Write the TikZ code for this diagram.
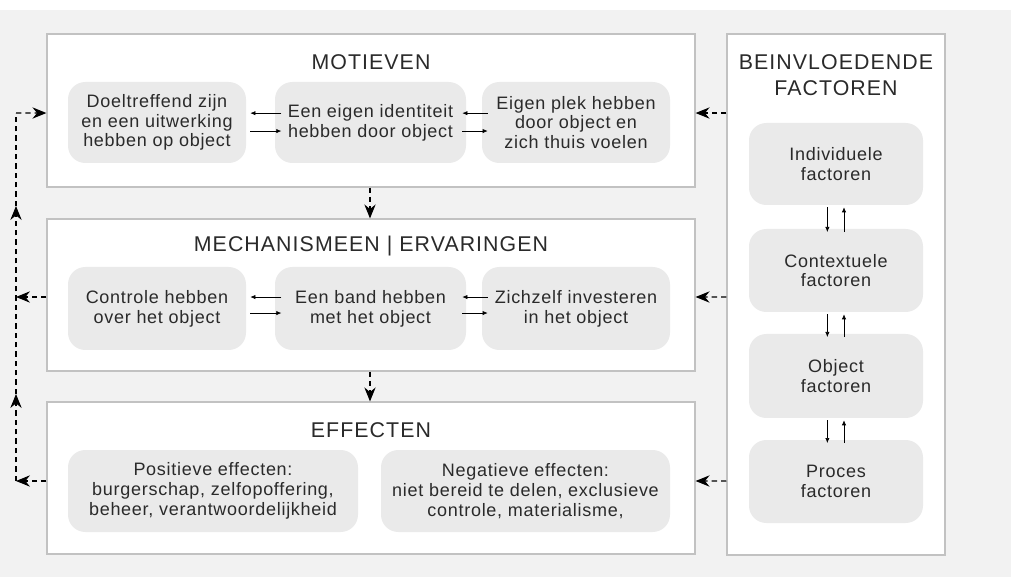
\documentclass[tikz,border=0pt]{standalone}
\usepackage{fontspec}
\setmainfont{Liberation Sans}
\newfontfamily\bodyfont[LetterSpace=4]{Liberation Sans}
\newfontfamily\titlefont[LetterSpace=5]{Liberation Sans}
\usetikzlibrary{arrows.meta}
\definecolor{bgc}{HTML}{F2F2F2}
\definecolor{innerc}{HTML}{EAEAEA}
\definecolor{edgec}{HTML}{C2C2C2}
\definecolor{txtc}{HTML}{2A2A2A}
\begin{document}
\begin{tikzpicture}[x=0.75pt,y=-0.75pt,
  outerbox/.style={draw=edgec, line width=0.9pt, fill=white, inner sep=0pt, rectangle},
  innerbox/.style={fill=innerc, rounded corners=13pt, align=center, text=txtc,
    font=\bodyfont\fontsize{13.5}{14.8}\selectfont, inner sep=0pt},
  titletext/.style={font=\titlefont\fontsize{16}{19.5}\selectfont, align=center, text=txtc},
  dline/.style={dash pattern=on 4pt off 3pt, line width=0.8pt, -{Stealth[length=10.5pt,width=8.5pt,inset=3.5pt]}},
  dplain/.style={dash pattern=on 4pt off 3pt, line width=0.8pt},
  sline/.style={line width=0.5pt, -{Latex[length=3.8pt,width=3.2pt]}}
]
\useasboundingbox (0,0) rectangle (1011,577);
\fill[bgc] (0,10) rectangle (1011,577);

% outer boxes
\node[outerbox, minimum width=486pt, minimum height=114.75pt] (mot) at (371,110.5) {};
\node[outerbox, minimum width=486pt, minimum height=114pt] (mech) at (371,295) {};
\node[outerbox, minimum width=486pt, minimum height=114pt] (eff) at (371,478) {};
\node[outerbox, minimum width=163.5pt, minimum height=390.75pt] (rp) at (836,294.5) {};

% titles
\node[titletext] (motT) at (371,62) {MOTIEVEN};
\node[titletext] (mechT) at (371,246) {MECHANISMEEN | ERVARINGEN};
\node[titletext] (effT) at (371,430) {EFFECTEN};
\node[titletext] (rpT) at (836,75) {BEINVLOEDENDE\\FACTOREN};

% motieven inner
\node[innerbox, minimum width=133.5pt, minimum height=60.75pt] (m1) at (157,122.5) {Doeltreffend zijn\\en een uitwerking\\hebben op object};
\node[innerbox, minimum width=143.25pt, minimum height=60.75pt] (m2) at (370.5,122.5) {Een eigen identiteit\\hebben door object};
\node[innerbox, minimum width=141pt, minimum height=60.75pt] (m3) at (576,122.5) {Eigen plek hebben\\door object en\\zich thuis voelen};

% mechanismen inner
\node[innerbox, minimum width=133.5pt, minimum height=62.25pt] (k1) at (157,308.5) {Controle hebben\\over het object};
\node[innerbox, minimum width=143.25pt, minimum height=62.25pt] (k2) at (370.5,308.5) {Een band hebben\\met het object};
\node[innerbox, minimum width=141pt, minimum height=62.25pt] (k3) at (576,308.5) {Zichzelf investeren\\in het object};

% effecten inner
\node[innerbox, minimum width=217.5pt, minimum height=61.5pt] (e1) at (213,491) {Positieve effecten:\\burgerschap, zelfopoffering,\\beheer, verantwoordelijkheid};
\node[innerbox, minimum width=216.75pt, minimum height=61.5pt] (e2) at (525.5,491) {Negatieve effecten:\\niet bereid te delen, exclusieve\\controle, materialisme,};

% factoren inner
\node[innerbox, minimum width=130.5pt, minimum height=61.5pt] (f1) at (836,164) {Individuele\\factoren};
\node[innerbox, minimum width=130.5pt, minimum height=62.25pt] (f2) at (836,270.5) {Contextuele\\factoren};
\node[innerbox, minimum width=130.5pt, minimum height=63pt] (f3) at (836,376) {Object\\factoren};
\node[innerbox, minimum width=130.5pt, minimum height=62.25pt] (f4) at (836,481.5) {Proces\\factoren};

% small arrows motieven
\draw[sline] ([xshift=5pt,yshift=7pt]m2.west) -- ([xshift=3pt,yshift=7pt]m1.east);
\draw[sline] ([xshift=3pt,yshift=-6.4pt]m1.east) -- ([xshift=5pt,yshift=-6.4pt]m2.west);
\draw[sline] ([xshift=4.5pt,yshift=7pt]m3.west) -- ([xshift=-3pt,yshift=7pt]m2.east);
\draw[sline] ([xshift=-3pt,yshift=-6.4pt]m2.east) -- ([xshift=4.5pt,yshift=-6.4pt]m3.west);

% small arrows mechanismen
\draw[sline] ([xshift=5pt,yshift=8.6pt]k2.west) -- ([xshift=3pt,yshift=8.6pt]k1.east);
\draw[sline] ([xshift=3pt,yshift=-3.4pt]k1.east) -- ([xshift=5pt,yshift=-3.4pt]k2.west);
\draw[sline] ([xshift=4.5pt,yshift=8.6pt]k3.west) -- ([xshift=-3pt,yshift=8.6pt]k2.east);
\draw[sline] ([xshift=-3pt,yshift=-3.4pt]k2.east) -- ([xshift=4.5pt,yshift=-3.4pt]k3.west);

% factoren vertical arrows
\draw[sline] ([xshift=-6.5pt,yshift=-1.5pt]f1.south) -- ([xshift=-6.5pt,yshift=-2.5pt]f2.north);
\draw[sline] ([xshift=6pt,yshift=-2.5pt]f2.north) -- ([xshift=6pt,yshift=-1.5pt]f1.south);
\draw[sline] ([xshift=-6.5pt,yshift=-1.5pt]f2.south) -- ([xshift=-6.5pt,yshift=-2.5pt]f3.north);
\draw[sline] ([xshift=6pt,yshift=-2.5pt]f3.north) -- ([xshift=6pt,yshift=-1.5pt]f2.south);
\draw[sline] ([xshift=-6.5pt,yshift=-1.5pt]f3.south) -- ([xshift=-6.5pt,yshift=-2.5pt]f4.north);
\draw[sline] ([xshift=6pt,yshift=-2.5pt]f4.north) -- ([xshift=6pt,yshift=-1.5pt]f3.south);

% dashed arrows between outer boxes
\draw[dline] ([xshift=-0.75pt]mot.south) -- ([xshift=-0.75pt]mech.north);
\draw[dline] ([xshift=-0.75pt]mech.south) -- ([xshift=-0.75pt]eff.north);

% right panel to boxes
\draw[dline] ([yshift=136.1pt]rp.west) -- ([yshift=-1.9pt]mot.east);
\draw[dline] ([yshift=-1.9pt]rp.west) -- ([yshift=-1.5pt]mech.east);
\draw[dline] ([yshift=-139.9pt]rp.west) -- ([yshift=-2.25pt]eff.east);

% left feedback loop
\coordinate (L1) at (16,113);
\coordinate (L2) at (16,297);
\coordinate (L3) at (16,481);
\coordinate (A1) at (16,394);
\coordinate (B1) at (16,206);
\draw[dline] ([yshift=-2.25pt]eff.west) -- (L3);
\draw[dline] ([yshift=-1.5pt]mech.west) -- (L2);
\draw[dline] (L3) -- (A1);
\draw[dline] (A1) -- (B1);
\draw[dplain] (B1) -- (L1);
\draw[dline] (L1) -- ([yshift=-1.9pt]mot.west);
\end{tikzpicture}
\end{document}
